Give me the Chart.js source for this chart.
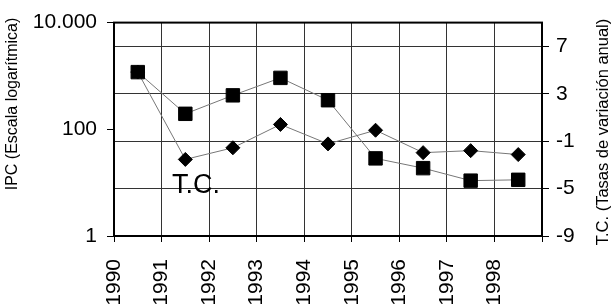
<!DOCTYPE html>
<html>
<head>
<meta charset="utf-8">
<script src="https://cdn.jsdelivr.net/npm/chart.js@4/dist/chart.umd.min.js"></script>
<style>
html,body{margin:0;padding:0;background:#fff;}
canvas{display:block;}
</style>
</head>
<body>
<canvas id="c" width="614" height="304"></canvas>
<script>
// Data
const years = [1990, 1991, 1992, 1993, 1994, 1995, 1996, 1997, 1998];
const ipc = [1180, 195, 433, 920, 351, 28.5, 18.7, 10.9, 11.3];
const tc = [4.83, -2.54, -1.56, 0.41, -1.23, -0.08, -1.97, -1.80, -2.13];
const leftTicks = [1, 100, 10000];
const rightTicks = [-9, -5, -1, 3, 7];
const xTicks = [1990, 1991, 1992, 1993, 1994, 1995, 1996, 1997, 1998];
const leftTitle = 'IPC (Escala logarítmica)';
const rightTitle = 'T.C. (Tasas de variación anual)';
const seriesLabel = 'T.C.';

const FONT = "'Liberation Sans', Arial, sans-serif";

function fmtThousands(v) {
  return String(Math.round(v)).replace(/\B(?=(\d{3})+(?!\d))/g, '.');
}

const framePlugin = {
  id: 'frame',
  beforeDatasetsDraw(chart) {
    const a = chart.chartArea;
    const ctx = chart.ctx;
    ctx.save();
    ctx.strokeStyle = '#000';
    ctx.lineWidth = 2;
    ctx.strokeRect(a.left, a.top, a.right - a.left, a.bottom - a.top);
    ctx.restore();
  },
  afterDraw(chart) {
    const ctx = chart.ctx;
    ctx.save();
    ctx.fillStyle = '#000';
    ctx.font = '16px ' + FONT;
    ctx.textAlign = 'center';
    ctx.textBaseline = 'middle';
    ctx.save();
    ctx.translate(13, 104);
    ctx.rotate(-Math.PI / 2);
    ctx.fillText(leftTitle, 0, 0);
    ctx.restore();
    ctx.save();
    ctx.font = '16.5px ' + FONT;
    ctx.translate(603, 132);
    ctx.rotate(-Math.PI / 2);
    ctx.fillText(rightTitle, 0, 0);
    ctx.restore();
    const xs = chart.scales.x, ys = chart.scales.y2;
    ctx.font = '27px ' + FONT;
    ctx.textAlign = 'left';
    ctx.textBaseline = 'alphabetic';
    ctx.fillText(seriesLabel, xs.getPixelForValue(1991.22), ys.getPixelForValue(-5.35));
    ctx.restore();
  }
};

new Chart(document.getElementById('c'), {
  type: 'line',
  data: {
    datasets: [
      {
        label: 'IPC',
        data: years.map((y, i) => ({ x: y + 0.5, y: ipc[i] })),
        yAxisID: 'y',
        borderColor: '#777',
        borderWidth: 1,
        pointStyle: 'rect',
        pointRadius: 9.5,
        pointBackgroundColor: '#000',
        pointBorderColor: '#000',
        pointBorderWidth: 1,
        tension: 0,
        fill: false
      },
      {
        label: 'T.C.',
        data: years.map((y, i) => ({ x: y + 0.5, y: tc[i] })),
        yAxisID: 'y2',
        borderColor: '#777',
        borderWidth: 1,
        pointStyle: 'rectRot',
        pointRadius: 7,
        pointBackgroundColor: '#000',
        pointBorderColor: '#000',
        pointBorderWidth: 1,
        tension: 0,
        fill: false
      }
    ]
  },
  options: {
    responsive: false,
    animation: false,
    devicePixelRatio: 1,
    layout: { padding: { top: 16, left: 0, right: 0, bottom: 0 } },
    plugins: { legend: { display: false }, tooltip: { enabled: false } },
    scales: {
      x: {
        type: 'linear',
        position: 'bottom',
        min: 1990,
        max: 1999,
        afterBuildTicks(scale) {
          scale.ticks = xTicks.concat([1999]).map(v => ({ value: v }));
        },
        afterFit(scale) { scale.height = 68; },
        ticks: {
          autoSkip: false,
          maxRotation: 90,
          minRotation: 90,
          padding: 17,
          color: '#000',
          font: { family: FONT, size: 21 },
          callback: (v) => (xTicks.includes(v) ? String(v) : '')
        },
        grid: { color: '#333', lineWidth: 1, tickLength: 6, tickColor: '#000' },
        border: { display: false }
      },
      y: {
        type: 'logarithmic',
        position: 'left',
        min: 1,
        max: 10000,
        afterBuildTicks(scale) {
          scale.ticks = leftTicks.map(v => ({ value: v }));
        },
        afterFit(scale) { scale.width = 114; },
        ticks: {
          padding: 10,
          color: '#000',
          font: { family: FONT, size: 21 },
          callback: (v) => fmtThousands(v)
        },
        grid: { drawOnChartArea: false, tickLength: 7, tickColor: '#000' },
        border: { display: false }
      },
      y2: {
        type: 'linear',
        position: 'right',
        min: -9,
        max: 9,
        afterBuildTicks(scale) {
          scale.ticks = rightTicks.map(v => ({ value: v }));
        },
        afterFit(scale) { scale.width = 72; },
        ticks: {
          padding: 7,
          color: '#000',
          font: { family: FONT, size: 21 },
          callback: (v) => String(v)
        },
        grid: { color: '#333', lineWidth: 1, tickLength: 7, tickColor: '#000' },
        border: { display: false }
      }
    }
  },
  plugins: [framePlugin]
});
</script>
</body>
</html>
